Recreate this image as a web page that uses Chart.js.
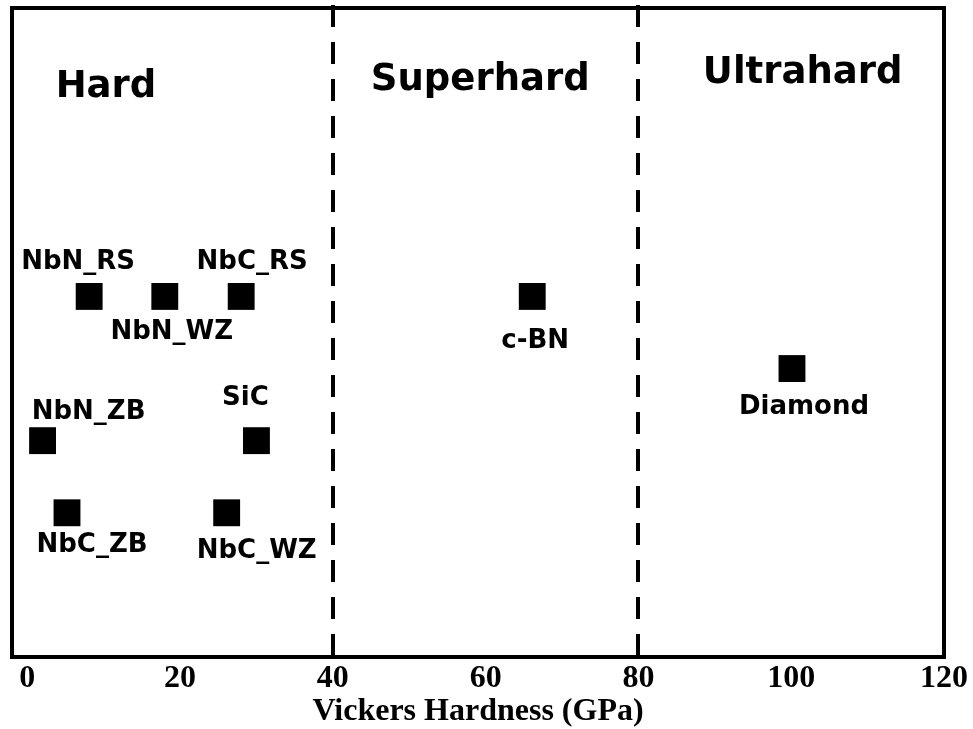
<!DOCTYPE html>
<html>
<head>
<meta charset="utf-8">
<script src="https://cdn.jsdelivr.net/npm/chart.js@4.4.1/dist/chart.umd.min.js"></script>
<style>
    html, body { margin: 0; padding: 0; background: #fff; }
    canvas { display: block; }
</style>
</head>
<body>
<canvas id="hardnessChart" width="973" height="729"></canvas>
<script>
// Materials and their Vickers hardness (GPa); row is just the vertical slot
const materials = ['NbN_RS', 'NbN_WZ', 'NbC_RS', 'NbN_ZB', 'SiC', 'NbC_ZB', 'NbC_WZ', 'c-BN', 'Diamond'];
const hardness = [8.1, 18, 28, 2, 30, 5.2, 26.1, 66.1, 100.1];
const rows = [5, 5, 5, 3, 3, 2, 2, 5, 4];

// Hardness classes and where their names sit
const classNames = ['Hard', 'Superhard', 'Ultrahard'];
const classCenters = [10.3, 59.3, 101.5];
const classRows = [7.77, 7.86, 7.96];
const classLimits = [40, 80];

const xTicks = [0, 20, 40, 60, 80, 100, 120];

// label offset from the marker centre (x, baseline) in px
const labelDx = [-11, 7, 11, 46, -11, 25, 30, 3, 12];
const labelDy = [-27, 43, -27, -22, -36, 39, 45, 52, 45];

const sansBold = 'bold {s}px "DejaVu Sans"';

const notes = {
    id: 'notes',
    afterDatasetsDraw(chart) {
        const ctx = chart.ctx;
        const area = chart.chartArea;
        const x = chart.scales.x;
        const y = chart.scales.y;
        ctx.save();
        ctx.strokeStyle = '#000';

        // class boundaries
        ctx.lineWidth = 4;
        ctx.setLineDash([22, 15]);
        classLimits.forEach(v => {
            const px = Math.round(x.getPixelForValue(v));
            ctx.beginPath();
            ctx.moveTo(px, area.top - 3);
            ctx.lineTo(px, area.bottom);
            ctx.stroke();
        });
        ctx.setLineDash([]);

        // frame
        ctx.lineWidth = 4;
        ctx.strokeRect(area.left, area.top, area.right - area.left, area.bottom - area.top);

        ctx.fillStyle = '#000';
        ctx.textAlign = 'center';
        ctx.textBaseline = 'alphabetic';

        // class names
        ctx.font = sansBold.replace('{s}', 37);
        classNames.forEach((name, i) => {
            ctx.fillText(name, x.getPixelForValue(classCenters[i]), y.getPixelForValue(classRows[i]));
        });

        // material labels
        ctx.font = sansBold.replace('{s}', 26);
        const meta = chart.getDatasetMeta(0);
        meta.data.forEach((pt, i) => {
            ctx.fillText(materials[i], pt.x + labelDx[i], pt.y + labelDy[i]);
        });
        ctx.restore();
    }
};

new Chart(document.getElementById('hardnessChart'), {
    type: 'scatter',
    data: {
        datasets: [{
            label: 'Vickers hardness',
            data: hardness.map((h, i) => ({ x: h, y: rows[i] })),
            pointStyle: 'rect',
            pointRadius: 19,
            pointHoverRadius: 19,
            borderWidth: 0,
            backgroundColor: '#000',
            borderColor: '#000'
        }]
    },
    options: {
        responsive: false,
        animation: false,
        layout: {
            autoPadding: false,
            padding: { left: 12, top: 8, right: 29, bottom: 0 }
        },
        plugins: {
            legend: { display: false },
            tooltip: { enabled: false }
        },
        scales: {
            x: {
                type: 'linear',
                min: -2,
                max: 120,
                grid: { display: false, drawTicks: false },
                border: { display: false },
                afterBuildTicks: scale => {
                    scale.ticks = xTicks.map(v => ({ value: v }));
                },
                afterFit: scale => {
                    scale.height = 72;
                },
                ticks: {
                    color: '#000',
                    padding: 3,
                    maxRotation: 0,
                    autoSkip: false,
                    font: { family: '"Liberation Serif"', size: 32, weight: 'bold' }
                },
                title: {
                    display: true,
                    text: 'Vickers Hardness (GPa)',
                    color: '#000',
                    padding: { top: 0, bottom: 1 },
                    font: { family: '"Liberation Serif"', size: 32, weight: 'bold', lineHeight: 1 }
                }
            },
            y: {
                display: false,
                min: 0,
                max: 9
            }
        }
    },
    plugins: [notes]
});
</script>
</body>
</html>
